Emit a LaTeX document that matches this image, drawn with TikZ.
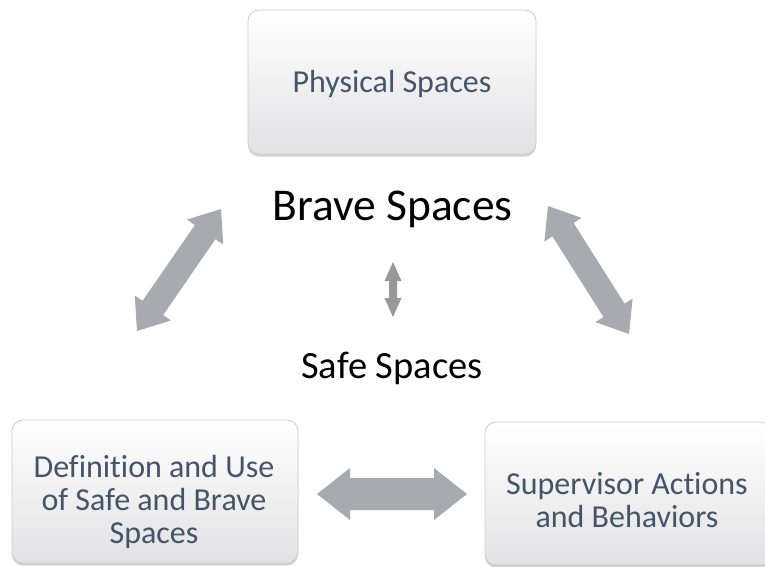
\documentclass[tikz,border=0pt]{standalone}
\usepackage{fontspec}
\setmainfont{Carlito}[Ligatures=CommonOff]
\usetikzlibrary{calc,shadows}

\definecolor{boxtext}{RGB}{68,84,106}
\definecolor{boxline}{RGB}{204,204,206}
\definecolor{boxbottom}{RGB}{226,226,228}
\definecolor{arrowgray}{RGB}{168,170,175}
\definecolor{arrowdark}{RGB}{152,152,154}

% Fat double-headed arrow between two coordinates:
% #1 style, #2 start, #3 end, #4 head length, #5 head half-width, #6 shaft half-width
\newcommand{\fatarrow}[6]{%
  \fill[#1] (#2)
    -- ($(#2)!#4!(#3)!#5!-90:(#3)$)
    -- ($(#2)!#4!(#3)!#6!-90:(#3)$)
    -- ($(#3)!#4!(#2)!#6!90:(#2)$)
    -- ($(#3)!#4!(#2)!#5!90:(#2)$)
    -- (#3)
    -- ($(#3)!#4!(#2)!#5!-90:(#2)$)
    -- ($(#3)!#4!(#2)!#6!-90:(#2)$)
    -- ($(#2)!#4!(#3)!#6!90:(#3)$)
    -- ($(#2)!#4!(#3)!#5!90:(#3)$)
    -- cycle;}

\tikzset{
  topic/.style={rounded corners=11pt, draw=boxline, line width=0.8pt,
    top color=white, bottom color=boxbottom,
    drop shadow={shadow xshift=0pt, shadow yshift=-2.5pt, opacity=0.35, fill=gray},
    inner sep=0pt},
  topictext/.style={text=boxtext, align=center, inner sep=0pt,
    font=\fontsize{32}{33}\selectfont},
  heading/.style={text=black, inner sep=0pt},
  bigarrow/.style={fill=arrowgray},
  smallarrow/.style={fill=arrowdark},
}

\begin{document}
\begin{tikzpicture}[x=1pt, y=-1pt]
  \useasboundingbox[fill=white] (0,0) rectangle (765,566);
  \clip (0,0) rectangle (765,566);

  % the three topic boxes
  \node[topic, minimum width=288pt, minimum height=144pt] (phys) at (392,82) {};
  \node[topic, minimum width=286pt, minimum height=143pt] (defn) at (155,491.5) {};
  \node[topic, minimum width=287pt, minimum height=143pt] (sup) at (628.5,493.5) {};

  % their labels
  \node[topictext, anchor=base] (physlabel) at (392,92) {Physical Spaces};
  \node[topictext] (defnlabel) at (154,502) {Definition and Use\\of Safe and Brave\\Spaces};
  \node[topictext] (suplabel) at (627,500.5) {Supervisor Actions\\and Behaviors};

  % central headings
  \node[heading, anchor=base, font=\fontsize{45.5}{50}\selectfont] (brave) at (392.5,220) {Brave Spaces};
  \node[heading, anchor=base, font=\fontsize{38.5}{44}\selectfont] (safe) at (392,378) {Safe Spaces};

  % arrow end points
  \coordinate (la) at (137,331);
  \coordinate (lb) at (221,209);
  \coordinate (ra) at (548,206);
  \coordinate (rb) at (629,334);
  \coordinate (ma) at (393,262);
  \coordinate (mb) at (393,317);
  \coordinate (ha) at (317,494);
  \coordinate (hb) at (467,494);

  \fatarrow{bigarrow}{la}{lb}{28pt}{22pt}{12.5pt}
  \fatarrow{bigarrow}{ra}{rb}{28pt}{22pt}{12.5pt}
  \fatarrow{bigarrow}{ha}{hb}{33pt}{26pt}{16pt}
  \fatarrow{smallarrow}{ma}{mb}{19pt}{8.5pt}{4pt}
\end{tikzpicture}
\end{document}
